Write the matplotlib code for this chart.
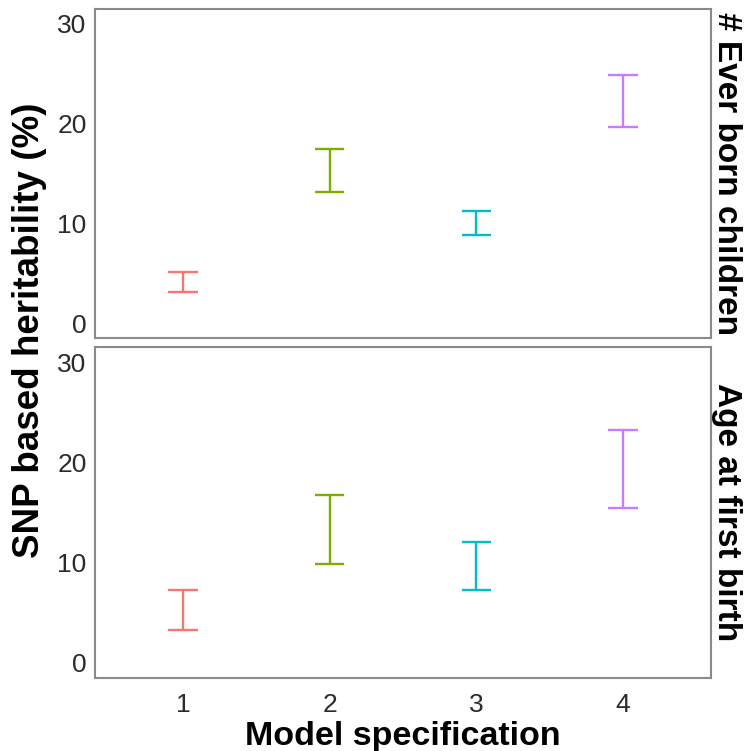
import numpy as np
import matplotlib.pyplot as plt

plt.rcParams['font.family'] = ['Liberation Sans', 'DejaVu Sans']

# model specifications and 95% intervals of SNP heritability (%)
models = [1, 2, 3, 4]
colors = ['#F8766D', '#7CAE00', '#00BFC4', '#C77CFF']

panels = ['# Ever born children', 'Age at first birth']
lower = {
    '# Ever born children': [3.1, 13.1, 8.8, 19.7],
    'Age at first birth': [3.3, 9.9, 7.3, 15.4],
}
upper = {
    '# Ever born children': [5.1, 17.5, 11.2, 24.9],
    'Age at first birth': [7.3, 16.7, 12.1, 23.2],
}

fig = plt.figure(figsize=(7.45, 7.51), dpi=100)
ax_top = fig.add_axes([95/745, 1-338/751, 616/745, 329/751])
ax_bot = fig.add_axes([95/745, 1-678/751, 616/745, 331/751])

for ax, name in zip([ax_top, ax_bot], panels):
    x = np.array(models, dtype=float)
    lo = np.array(lower[name])
    hi = np.array(upper[name])
    ax.vlines(x, lo, hi, colors=colors, linewidth=1.7)
    ax.hlines(lo, x - 0.1, x + 0.1, colors=colors, linewidth=1.7)
    ax.hlines(hi, x - 0.1, x + 0.1, colors=colors, linewidth=1.7)
    ax.set_xlim(0.4, 4.6)
    ax.set_ylim(-1.5, 31.5)
    ax.set_yticks([0, 10, 20, 30])
    ax.set_xticks(models)
    ax.tick_params(length=0, labelsize=19, colors='#2b2b2b')
    ax.tick_params(axis='y', pad=6)
    ax.tick_params(axis='x', pad=11)
    for s in ax.spines.values():
        s.set_color('#8a8a8a')
        s.set_linewidth(1.5)
    ax.text(1.0, 0.5, name, transform=ax.transAxes, rotation=-90,
            ha='left', va='center', fontsize=24, fontweight='bold')

ax_top.tick_params(labelbottom=False)
fig.text(403/745, 1 - 745/751, 'Model specification', ha='center',
         va='baseline', fontsize=24.5, fontweight='bold')
fig.text(30/745, 1 - 330/751, 'SNP based heritability (%)', rotation=90,
         ha='center', va='center', fontsize=26.5, fontweight='bold')

fig.savefig('out.png', dpi=100)
